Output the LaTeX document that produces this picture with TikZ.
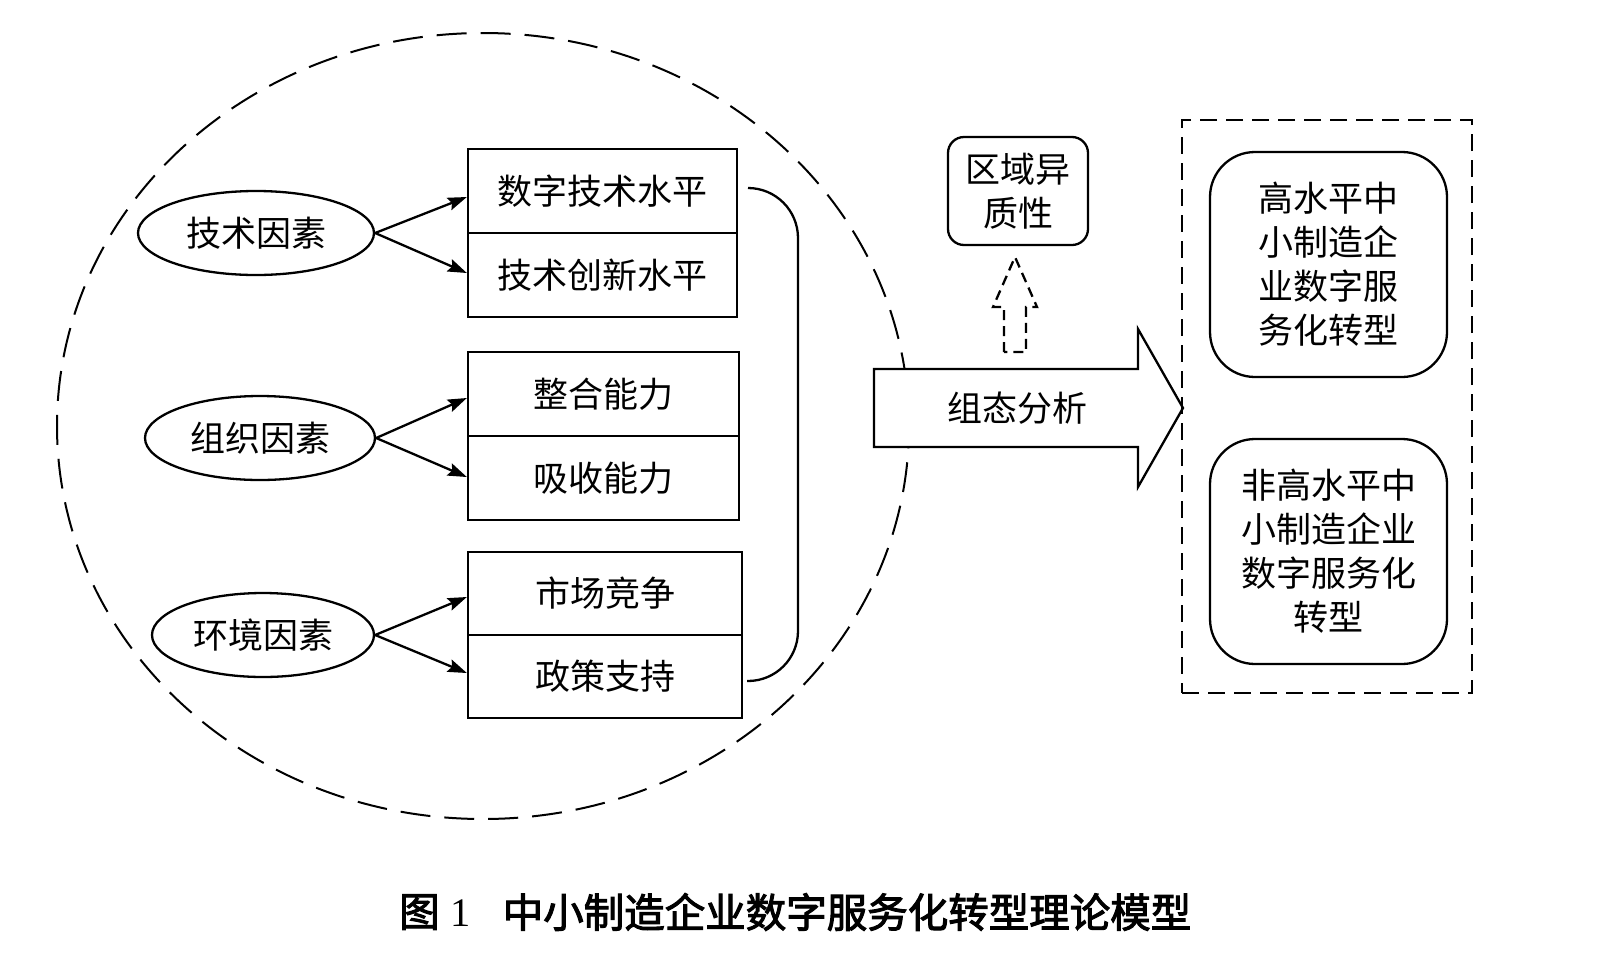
\documentclass[tikz,border=0pt]{standalone}
\usepackage{fontspec}
\newfontfamily\cjk{Noto Sans CJK SC}
\newfontfamily\cjkcap[FakeBold=2.5]{Noto Sans CJK SC}
\newfontfamily\tms{Liberation Serif}
\usetikzlibrary{shapes.geometric,arrows.meta}
\newcommand\txtfont{\cjk\fontsize{35pt}{44pt}\selectfont}
\newcommand\capfont{\cjkcap\fontsize{40.5pt}{48pt}\selectfont}
\begin{document}
\begin{tikzpicture}[x=1pt,y=-1pt,line width=2.3pt,
  rowbox/.style={draw,rectangle,inner sep=0pt,minimum height=84pt,font=\txtfont},
  factor/.style={draw,ellipse,inner sep=0pt,minimum height=84pt,font=\txtfont},
  arr/.style={-{Stealth[length=19pt,width=13pt,inset=3pt]}},
  outbox/.style={draw,rectangle,rounded corners=45pt,inner sep=0pt,minimum width=237pt,minimum height=225pt,align=center,font=\txtfont},
  circdash/.style={dash pattern=on 30pt off 14pt},
  grpdash/.style={dash pattern=on 17pt off 9pt},
  updash/.style={dash pattern=on 10pt off 6pt}]
\useasboundingbox (0,0) rectangle (1609,954);
\fill[white] (0,0) rectangle (1609,954);

% dashed circle
\draw[circdash,line width=2pt] (483,426) ellipse [x radius=426pt, y radius=393pt];

% factors
\node[factor,minimum width=236pt] (f1) at (256,233) {技术因素};
\node[factor,minimum width=230pt] (f2) at (260,438) {组织因素};
\node[factor,minimum width=222pt] (f3) at (263,635) {环境因素};

% rows
\node[rowbox,minimum width=269pt] (r11) at (602.5,191) {数字技术水平};
\node[rowbox,minimum width=269pt] (r12) at (602.5,275) {技术创新水平};
\node[rowbox,minimum width=271pt] (r21) at (603.5,394) {整合能力};
\node[rowbox,minimum width=271pt] (r22) at (603.5,478) {吸收能力};
\node[rowbox,minimum width=274pt,minimum height=83pt] (r31) at (605,593.5) {市场竞争};
\node[rowbox,minimum width=274pt,minimum height=83pt] (r32) at (605,676.5) {政策支持};

% arrows
\draw[arr] (f1.east) -- ([yshift=-6pt]r11.west);
\draw[arr] (f1.east) -- ([yshift=2pt]r12.west);
\draw[arr] (f2.east) -- ([yshift=-4pt]r21.west);
\draw[arr] (f2.east) -- ([yshift=1pt]r22.west);
\draw[arr] (f3.east) -- ([yshift=-3.5pt]r31.west);
\draw[arr] (f3.east) -- ([yshift=3.5pt]r32.west);

% bracket
\coordinate (bt) at (748,188);
\coordinate (bb) at (747,681);
\draw[rounded corners=50pt] (bt) -- (798,188) -- (798,681) -- (bb);

% big arrow
\draw[fill=white] (874,369) -- (1138,369) -- (1138,329) -- (1183,408) -- (1138,487) -- (1138,447) -- (874,447) -- cycle;
\node[font=\txtfont] (ana) at (1017,408) {组态分析};

% dashed up arrow
\draw[updash] (1004,352) -- (1004,307) -- (993,307) -- (1015,257) -- (1037,307) -- (1026,307) -- (1026,352) -- cycle;

% regional heterogeneity
\node[draw,rectangle,rounded corners=16pt,minimum width=140pt,minimum height=108pt,inner sep=0pt,align=center,font=\txtfont] (reg) at (1018,191) {区域异\\质性};

% outcome group
\node[draw,grpdash,rectangle,inner sep=0pt,minimum width=290pt,minimum height=573pt] (grp) at (1327,406.5) {};
\node[outbox] (o1) at (1328.5,264.5) {高水平中\\小制造企\\业数字服\\务化转型};
\node[outbox] (o2) at (1328.5,551.5) {非高水平中\\小制造企业\\数字服务化\\转型};

% caption
\node[font=\capfont,anchor=west,inner sep=0pt] (fig) at (398,912) {图\hspace{11pt}{\tms 1}};
\node[font=\capfont,inner sep=0pt] (cap) at (847,912) {中小制造企业数字服务化转型理论模型};
\end{tikzpicture}
\end{document}
